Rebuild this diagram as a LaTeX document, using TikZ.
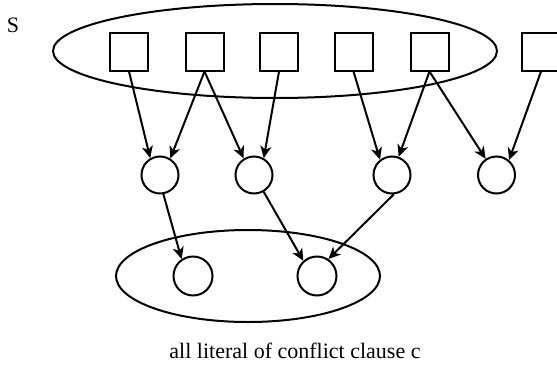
\documentclass[tikz,border=0pt]{standalone}
\usepackage{fontspec}
\setmainfont{Liberation Serif}
\usetikzlibrary{arrows.meta,positioning}

\begin{document}
\begin{tikzpicture}[
        x=1pt, y=-1pt,
        >={Stealth[length=12pt,width=11pt,inset=3.5pt]},
        % variables are squares, implied literals are circles
        var/.style={rectangle, draw, line width=2pt, minimum size=38pt, inner sep=0pt},
        lit/.style={circle, draw, line width=2pt, minimum size=#1, inner sep=0pt},
        lit/.default=37pt,
        imp/.style={->, line width=2pt},
        group/.style={draw, line width=2pt},
        font=\fontsize{22}{26}\selectfont
    ]
        \clip (0,0) rectangle (557,367);

        % set S around the first five variables
        \draw[group] (275,51) ellipse [x radius=222pt, y radius=47pt];
        \node (lblS) at (13,25) {S};

        \node[var] (s1) at (129,51.5) {};
        \node[var] (s2) at (204.5,51.5) {};
        \node[var] (s3) at (279,51.5) {};
        \node[var] (s4) at (353.5,51.5) {};
        \node[var] (s5) at (429.5,51.5) {};
        \node[var] (s6) at (541,51.5) {};

        \node[lit] (m1) at (160,175) {};
        \node[lit] (m2) at (254,175) {};
        \node[lit] (m3) at (392,175) {};
        \node[lit] (m4) at (496.5,175) {};

        % conflict clause
        \draw[group] (248,276) ellipse [x radius=132pt, y radius=46pt];
        \node[lit=39pt] (c1) at (193,276) {};
        \node[lit=39pt] (c2) at (317,276) {};

        \node[anchor=base] (caption) at (295,358) {all literal of conflict clause c};

        % Implications
        \draw[imp] (s1.south) -- (m1.120);
        \draw[imp] (s2.south) -- (m1.58);
        \draw[imp] (s2.south) -- (m2.122);
        \draw[imp] (s3.south) -- (m2.60);
        \draw[imp] (s4.south) -- (m3.128);
        \draw[imp] (s5.south) -- (m3.70);
        \draw[imp] (s5.south) -- (m4.124);
        \draw[imp] (s6.south) -- (m4.50);

        \draw[imp] (m1.-80) -- (c1.124);
        \draw[imp] (m2.-60) -- (c2.132);
        \draw[imp] (m3.-85) -- (c2.56);
    \end{tikzpicture}
\end{document}
